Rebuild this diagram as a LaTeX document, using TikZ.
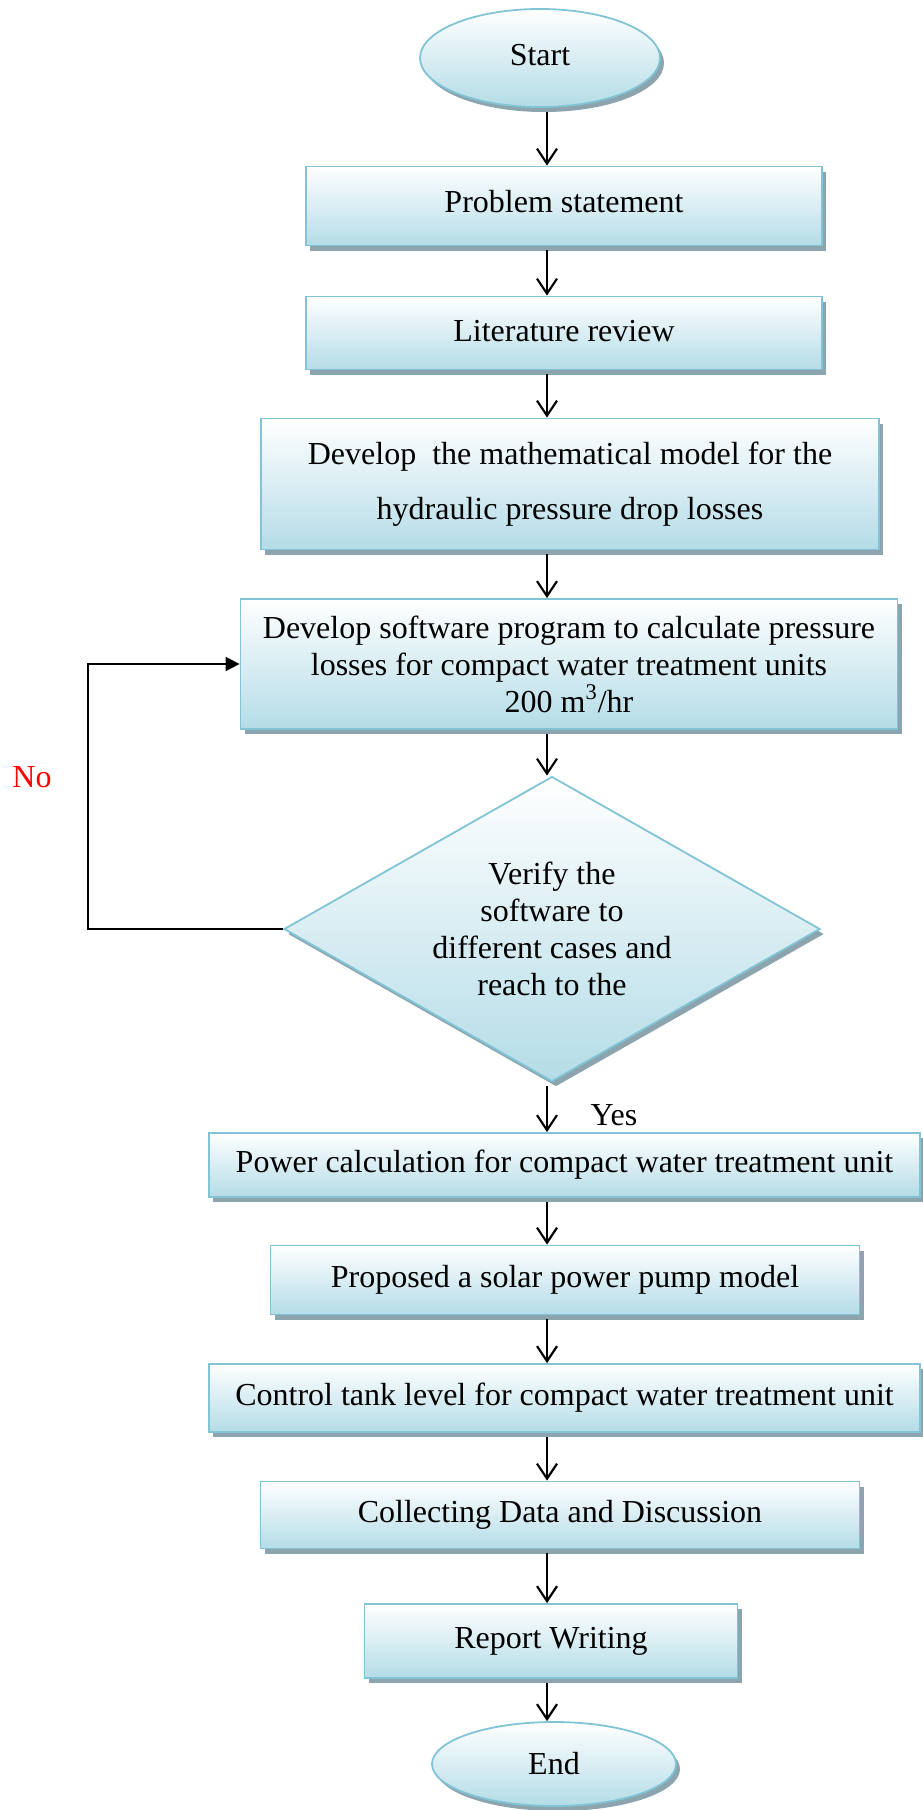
\documentclass[tikz,border=0pt]{standalone}
\usepackage{fontspec}
\setmainfont{Liberation Serif}
\usetikzlibrary{shapes.geometric,shadows,arrows.meta}
\definecolor{bordc}{RGB}{128,196,214}
\definecolor{fillc}{RGB}{180,220,231}
\definecolor{shadc}{RGB}{140,164,174}
\begin{document}
\begin{tikzpicture}[x=0.5pt,y=-0.5pt,
 font=\fontsize{16}{18.5}\selectfont,
 base/.style={draw=bordc, line width=0.9pt, top color=white, bottom color=fillc, inner sep=0pt, align=center,
   copy shadow={shadow xshift=2pt, shadow yshift=-2.5pt, draw=none, fill=shadc}},
 procbox/.style={base, rectangle},
 term/.style={base, ellipse},
 decision/.style={base, diamond, shape aspect=1.75},
 flow/.style={line width=1.1pt, shorten <=2pt, -{Straight Barb[length=7.5pt,width=10pt,line width=1.1pt]}},
 loopline/.style={line width=0.9pt, -{Triangle[length=7pt,width=7pt]}}]
\useasboundingbox (0,0) rectangle (922,1810);

\node[term, minimum width=120pt, minimum height=49pt] (start) at (540,58) {\raisebox{3.5pt}{Start}};
\node[procbox, minimum width=258pt, minimum height=39.5pt] (prob) at (564,206) {\raisebox{4.5pt}{Problem statement}};
\node[procbox, minimum width=258pt, minimum height=36.5pt] (lit) at (564,333) {\raisebox{2.5pt}{Literature review}};
\node[procbox, minimum width=309pt, minimum height=65.5pt, font=\fontsize{16}{27.5}\selectfont] (math) at (570,484) {Develop\ \ the mathematical model for the\\hydraulic pressure drop losses};
\node[procbox, minimum width=328.5pt, minimum height=65pt] (soft) at (569,664) {Develop software program to calculate pressure\\losses for compact water treatment units\\200 m\textsuperscript{3}/hr};
\node[decision, minimum width=268pt, minimum height=152.5pt] (dec) at (552,929) {Verify the\\software to\\different cases and\\reach to the};
\node[procbox, minimum width=355.5pt, minimum height=32pt] (pow) at (564.5,1165) {Power calculation for compact water treatment unit};
\node[procbox, minimum width=294.5pt, minimum height=34.5pt] (prop) at (565,1280) {Proposed a solar power pump model};
\node[procbox, minimum width=355.5pt, minimum height=34pt] (tank) at (564.5,1398) {Control tank level for compact water treatment unit};
\node[procbox, minimum width=299.5pt, minimum height=33.5pt] (coll) at (560,1515) {Collecting Data and Discussion};
\node[procbox, minimum width=186.5pt, minimum height=37pt] (rep) at (551,1641) {\raisebox{1.5pt}{Report Writing}};
\node[term, minimum width=122pt, minimum height=42pt] (end) at (554,1764) {End};

\coordinate (ax) at (547,0);
\draw[flow] (start.south -| ax) -- (prob.north -| ax);
\draw[flow] (prob.south -| ax) -- (lit.north -| ax);
\draw[flow] (lit.south -| ax) -- (math.north -| ax);
\draw[flow] (math.south -| ax) -- (soft.north -| ax);
\draw[flow] (soft.south -| ax) -- (dec.north -| ax);
\draw[flow] (dec.south -| ax) -- (pow.north -| ax);
\draw[flow] (pow.south -| ax) -- (prop.north -| ax);
\draw[flow] (prop.south -| ax) -- (tank.north -| ax);
\draw[flow] (tank.south -| ax) -- (coll.north -| ax);
\draw[flow] (coll.south -| ax) -- (rep.north -| ax);
\draw[flow] (rep.south -| ax) -- (end.north -| ax);

\coordinate (lp) at (88,800);
\draw[loopline] (dec.west) -| (lp) |- (soft.west);

\node[text=red] (no) at (32,777) {No};
\node (yes) at (614,1115) {Yes};
\end{tikzpicture}
\end{document}
